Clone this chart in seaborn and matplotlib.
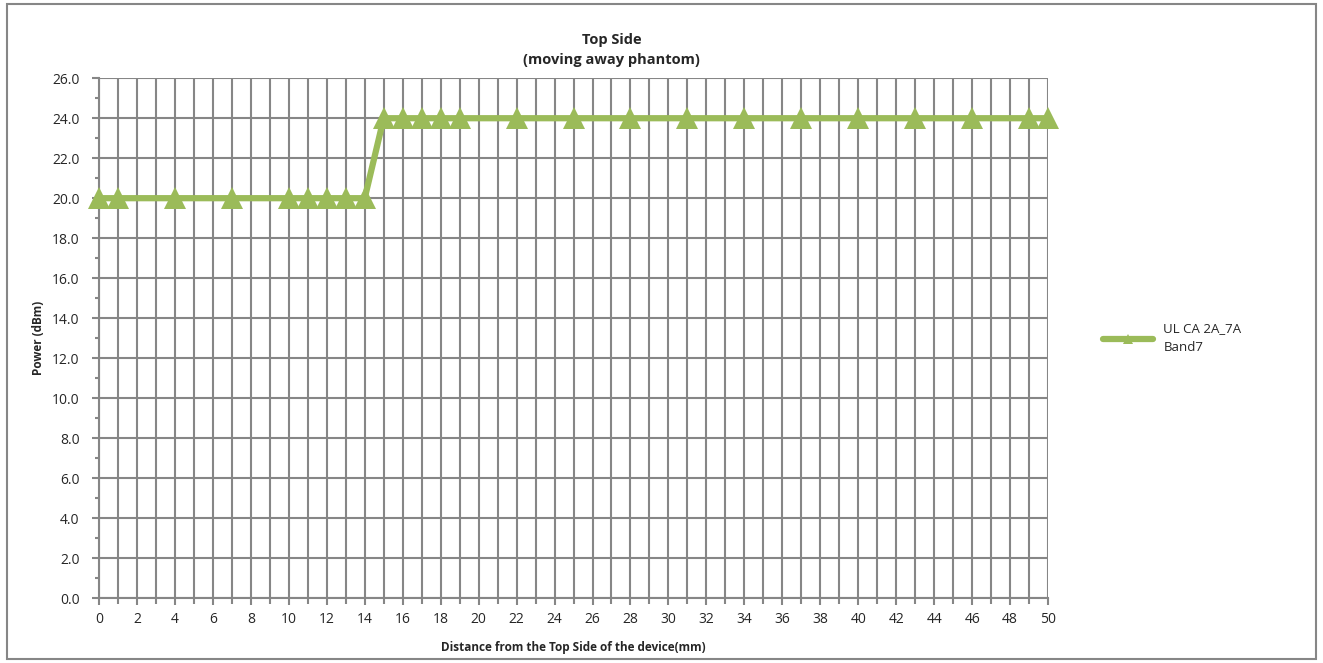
import numpy as np
import pandas as pd
import matplotlib
matplotlib.use('Agg')
import matplotlib.pyplot as plt
import seaborn as sns
from matplotlib.patches import Rectangle

# data
distance = [0, 1, 4, 7, 10, 11, 12, 13, 14, 15, 16, 17, 18, 19, 22, 25, 28, 31,
            34, 37, 40, 43, 46, 49, 50]
power = [20.0, 20.0, 20.0, 20.0, 20.0, 20.0, 20.0, 20.0, 20.0, 24.0, 24.0, 24.0,
         24.0, 24.0, 24.0, 24.0, 24.0, 24.0, 24.0, 24.0, 24.0, 24.0, 24.0, 24.0, 24.0]
series_name = 'UL CA 2A_7A\nBand7'

df = pd.DataFrame({'Distance': distance, 'Power': power})

sns.set_style('white')
plt.rcParams['font.family'] = ['Open Sans', 'DejaVu Sans']

fig = plt.figure(figsize=(13.23, 6.63), dpi=100)
ax = fig.add_axes([0.0748, 0.098, 0.7174, 0.784])

grid_col = '#868686'
green = '#9BBB59'

sns.lineplot(data=df, x='Distance', y='Power', ax=ax, color=green, linewidth=4.5,
             marker='^', markersize=16, markeredgewidth=0, label=series_name,
             clip_on=False, zorder=5)

ax.set_xlim(0, 50)
ax.set_ylim(0, 26)
ax.set_xticks(np.arange(0, 51, 2))
ax.set_xticks(np.arange(0, 51, 1), minor=True)
ax.set_yticks(np.arange(0, 27, 2))
ax.set_yticks(np.arange(0, 27, 1), minor=True)
ax.set_yticklabels([f'{v:.1f}' for v in np.arange(0, 27, 2)])

ax.grid(True, which='major', axis='y', color=grid_col, linewidth=1.5)
ax.grid(True, which='both', axis='x', color=grid_col, linewidth=1.5)
ax.set_axisbelow(True)
for s in ['top', 'right']:
    ax.spines[s].set_visible(False)
for s in ['left', 'bottom']:
    ax.spines[s].set_color(grid_col)
    ax.spines[s].set_linewidth(1.5)

ax.tick_params(axis='both', which='both', direction='out', color=grid_col, width=1.5,
               labelsize=10, left=True, bottom=True)
ax.tick_params(axis='both', which='major', length=5)
ax.tick_params(axis='both', which='minor', length=4)
ax.tick_params(axis='y', which='minor', length=3)
ax.tick_params(axis='y', which='major', pad=9)
ax.tick_params(axis='x', which='major', pad=5)

ax.set_xlabel('Distance from the Top Side of the device(mm)', fontsize=8.5,
              fontweight='bold', labelpad=10)
ax.set_ylabel('Power (dBm)', fontsize=8.5, fontweight='bold', labelpad=5)
ax.set_title('Top Side\n(moving away phantom)', fontsize=10.5, fontweight='bold',
             linespacing=1.6, pad=10, x=0.54)

leg = ax.legend(loc='center left', bbox_to_anchor=(1.045, 0.5), frameon=False,
                fontsize=9.5, handlelength=3.8, markerscale=0.45, labelspacing=0.2)
for t in leg.get_texts():
    t.set_linespacing(1.6)

fig.patches.append(Rectangle((0.005, 0.006), 0.99, 0.988, transform=fig.transFigure,
                             fill=False, edgecolor='#868686', linewidth=1.5))

fig.savefig('out.png', dpi=100)
